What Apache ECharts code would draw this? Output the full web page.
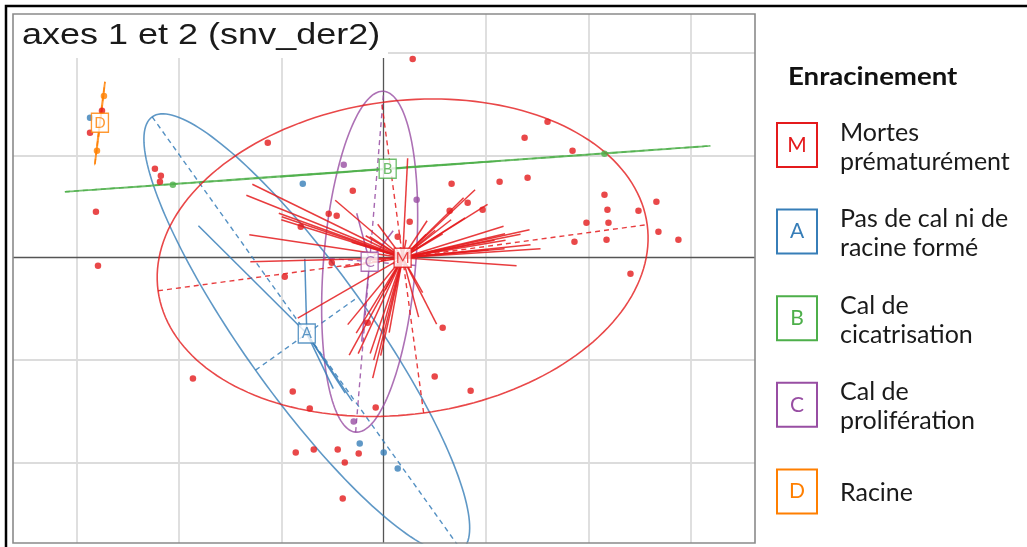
<!DOCTYPE html>
<html><head><meta charset="utf-8">
<script src="https://cdn.jsdelivr.net/npm/echarts@6/dist/echarts.min.js"></script>
<style>html,body{margin:0;padding:0;background:#fff;}#c{width:1027px;height:547px;}</style>
</head><body><div id="c"></div>
<script>
// ---------- data ----------
const plotTitle = 'axes 1 et 2 (snv_der2)';
const legendTitle = 'Enracinement';
const groupCodes = ['M', 'A', 'B', 'C', 'D'];
const groupLabels = ['Mortes\nprématurément', 'Pas de cal ni de\nracine formé', 'Cal de\ncicatrisation', 'Cal de\nprolifération', 'Racine'];
const groupColors = ['#E41A1C', '#377EB8', '#4DAF4A', '#984EA3', '#FF7F00'];

const pointsM = [
  [0.283,1.941],[-1.132,1.122],[-2.751,1.434],[-2.868,1.220],[-2.234,0.868],[-2.176,0.800],[-2.185,0.741],
  [-2.810,0.449],[-2.790,-0.078],[-0.302,0.654],[1.600,1.327],[1.376,1.171],[1.844,1.044],[0.663,0.722],
  [1.132,0.741],[1.405,0.780],[2.156,0.615],[-0.537,0.429],[-0.459,0.410],[-0.810,0.302],[-0.507,-0.049],
  [-0.966,-0.185],[0.254,0.351],[0.137,0.205],[0.820,0.537],[0.644,0.459],[0.966,0.468],[2.663,0.546],
  [2.185,0.468],[2.488,0.459],[1.980,0.341],[2.195,0.341],[2.683,0.254],[1.863,0.156],[2.176,0.176],
  [2.878,0.176],[2.410,-0.156],[0.576,-0.683],[-0.156,-0.634],[0.498,-1.161],[-1.863,-1.180],[-0.888,-1.307],
  [-0.722,-1.473],[-0.078,-1.463],[0.849,-1.298],[-0.859,-1.902],[-0.683,-1.873],[-0.449,-1.873],
  [-0.244,-1.912],[-0.380,-2.000],[-0.400,-2.351]
];
const pointsA = [[-2.868,1.366],[-0.790,0.722],[-0.234,-1.815],[0.000,-1.902],[0.137,-2.059]];
const pointsB = [[-2.059,0.712],[2.156,1.015]];
const pointsC = [[-0.390,0.907],[0.322,0.566],[-0.293,-1.600]];
const pointsD = [[-2.732,1.580],[-2.800,1.044]];

const centroids = [[0.185,0.000],[-0.751,-0.741],[0.039,0.868],[-0.137,-0.039],[-2.771,1.317]];
const ellipseMajor = [2.41, 2.60, 3.16, 1.67, 0.403];
const ellipseMinor = [1.53, 0.615, 0.003, 0.45, 0.003];
const ellipseAngle = [7.7, -54.5, 4.07, 85.3, 83.0];
const starFraction = 0.5;

const gridX = [-3, -2, -1, 1, 2, 3];
const gridY = [-2, -1, 1, 2];

// ---------- build ----------
const groupPoints = [pointsM, pointsA, pointsB, pointsC, pointsD];
const X0 = -3.62, X1 = 3.626, Y0 = -2.786, Y1 = 2.38;

function ellipsePath(c, a, b, deg) {
  const th = deg * Math.PI / 180, pts = [];
  for (let i = 0; i <= 180; i++) {
    const t = i / 180 * 2 * Math.PI, u = a * Math.cos(t), v = b * Math.sin(t);
    pts.push([c[0] + u * Math.cos(th) - v * Math.sin(th), c[1] + u * Math.sin(th) + v * Math.cos(th)]);
  }
  return pts;
}

const series = [];
series.push({
  type: 'lines', coordinateSystem: 'cartesian2d', silent: true, z: 1,
  lineStyle: { color: '#dcdcdc', width: 1.8, opacity: 1 },
  data: gridX.map(x => ({ coords: [[x, Y0], [x, Y1]] })).concat(gridY.map(y => ({ coords: [[X0, y], [X1, y]] })))
});
series.push({
  type: 'lines', coordinateSystem: 'cartesian2d', silent: true, z: 2,
  lineStyle: { color: '#555', width: 1.3, opacity: 1 },
  data: [{ coords: [[0, Y0], [0, Y1]] }, { coords: [[X0, 0], [X1, 0]] }]
});

const order = [1, 3, 2, 4, 0];
order.forEach(g => {
  const c = centroids[g], a = ellipseMajor[g], b = ellipseMinor[g], th = ellipseAngle[g] * Math.PI / 180;
  const col = groupColors[g];
  series.push({
    type: 'lines', coordinateSystem: 'cartesian2d', polyline: true, silent: true, z: 3,
    lineStyle: { color: col, width: 1.6, opacity: 0.8 },
    data: [{ coords: ellipsePath(c, a, b, ellipseAngle[g]) }]
  });
  series.push({
    type: 'lines', coordinateSystem: 'cartesian2d', silent: true, z: 3,
    lineStyle: { color: col, width: 1.4, opacity: 0.85, type: [5, 4] },
    data: [
      { coords: [[c[0] - a * Math.cos(th), c[1] - a * Math.sin(th)], [c[0] + a * Math.cos(th), c[1] + a * Math.sin(th)]] },
      { coords: [[c[0] + b * Math.sin(th), c[1] - b * Math.cos(th)], [c[0] - b * Math.sin(th), c[1] + b * Math.cos(th)]] }
    ]
  });
  series.push({
    type: 'lines', coordinateSystem: 'cartesian2d', silent: true, z: 4,
    lineStyle: { color: col, width: 1.5, opacity: 0.85 },
    data: groupPoints[g].map(p => ({ coords: [c, [c[0] + starFraction * (p[0] - c[0]), c[1] + starFraction * (p[1] - c[1])]] }))
  });
});
order.forEach(g => {
  series.push({
    type: 'scatter', silent: true, z: 5, symbolSize: 6.5,
    itemStyle: { color: groupColors[g] },
    data: groupPoints[g]
  });
});
order.forEach(g => {
  series.push({
    type: 'scatter', silent: true, z: 6, symbol: 'rect', symbolSize: [17, 19],
    itemStyle: { color: '#fff', borderColor: groupColors[g], borderWidth: 1.4 },
    label: { show: true, position: 'inside', formatter: groupCodes[g], color: groupColors[g], fontSize: 15, fontFamily: 'Lato' },
    data: [centroids[g]]
  });
});

const graphics = [
  { type: 'rect', z: 100, shape: { x: 6, y: 6, width: 1030, height: 548 }, style: { fill: 'none', stroke: '#000', lineWidth: 2.5 } },
  { type: 'rect', z: 100, shape: { x: 13, y: 14, width: 375, height: 44 }, style: { fill: '#fff', stroke: 'none' } },
  { type: 'rect', z: 101, shape: { x: 13, y: 14, width: 742, height: 529 }, style: { fill: 'none', stroke: '#8a8a8a', lineWidth: 1.6 } },
  { type: 'text', z: 102, x: 22, y: 36, scaleX: 1.2,
    style: { text: plotTitle, font: '30px "Liberation Sans"', fill: '#1a1a1a', align: 'left', verticalAlign: 'middle', textAlign: 'left', textVerticalAlign: 'middle' } },
  { type: 'text', z: 102, x: 788, y: 77, scaleX: 1.15,
    style: { text: legendTitle, font: 'bold 24px Lato', fill: '#111', align: 'left', verticalAlign: 'middle', textAlign: 'left', textVerticalAlign: 'middle' } }
];
groupCodes.forEach((code, i) => {
  const cy = 145 + i * 86.6;
  graphics.push({ type: 'rect', z: 102, shape: { x: 777, y: cy - 22, width: 40, height: 44 }, style: { fill: '#fff', stroke: groupColors[i], lineWidth: 2 } });
  graphics.push({ type: 'text', z: 103, x: 797, y: cy,
    style: { text: code, font: '21px Lato', fill: groupColors[i], align: 'center', verticalAlign: 'middle', textAlign: 'center', textVerticalAlign: 'middle' } });
  graphics.push({ type: 'text', z: 103, x: 840, y: cy + 2,
    style: { text: groupLabels[i], font: '25px Lato', fill: '#1a1a1a', lineHeight: 29, align: 'left', verticalAlign: 'middle', textAlign: 'left', textVerticalAlign: 'middle' } });
});

const chart = echarts.init(document.getElementById('c'), null, { renderer: 'canvas' });
chart.setOption({
  animation: false,
  backgroundColor: '#fff',
  grid: { left: 13, right: 272, top: 14, bottom: 4 },
  xAxis: { type: 'value', min: X0, max: X1, show: false, splitLine: { show: false } },
  yAxis: { type: 'value', min: Y0, max: Y1, show: false, splitLine: { show: false } },
  series: series,
  graphic: { elements: graphics }
});
</script></body></html>
